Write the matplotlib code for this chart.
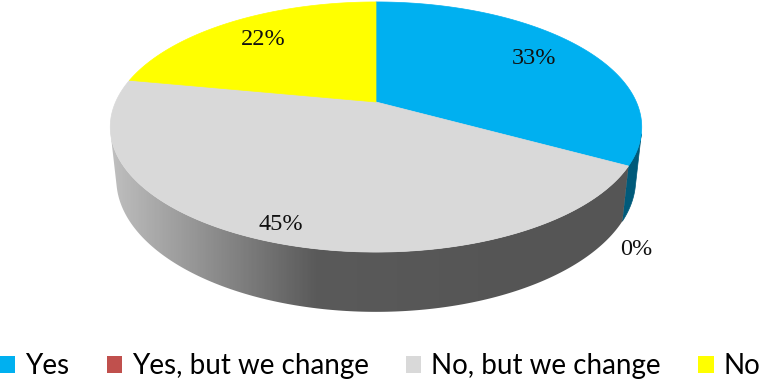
import numpy as np
import matplotlib
matplotlib.use("Agg")
import matplotlib.pyplot as plt
from matplotlib.patches import Polygon, Patch
from matplotlib.colors import LinearSegmentedColormap

labels = ["Yes", "Yes, but we change", "No, but we change", "No"]
shares = [33, 0, 45, 22]
top_colors = ["#00B0F0", "#C0504D", "#D9D9D9", "#FFFF00"]
side_colors = ["#005A7A", "#7A2E2C", None, "#9A9A00"]   # None -> grey gradient
label_r = [0.76, 1.0, 0.9, 0.76]

# perspective camera for a unit disc of thickness h
elev = np.arcsin(0.451)
s, c = np.sin(elev), np.cos(elev)
D = 5 * c
f = 1188.0
fx = f * 0.978
h = 0.221
cx, cy = 376.0, 102.0


def project(theta, r=1.0, z=0.0):
    x = r * np.cos(theta)
    y = r * np.sin(theta)
    ry = y + D * c
    rz = z - D * s
    Yc = ry * s + rz * c
    Zc = ry * c - rz * s
    return cx + fx * x / Zc, cy - f * Yc / Zc


fig = plt.figure(figsize=(7.6, 3.79), dpi=100)
ax = fig.add_axes([0, 0, 1, 1])
ax.set_xlim(0, 760)
ax.set_ylim(379, 0)
ax.axis("off")

# slice angles: start at 12 o'clock, clockwise
total = float(sum(shares))
bounds = np.deg2rad(90 - 360 * np.concatenate([[0], np.cumsum(shares)]) / total)

# front walls (only the part facing the camera)
vis_lo = np.pi + np.arcsin(1 / (D * c))
vis_hi = 2 * np.pi - np.arcsin(1 / (D * c))
grey = LinearSegmentedColormap.from_list("wall", ["#BEBEBE", "#5A5A5A", "#555555"])
for i in range(len(shares)):
    a0, a1 = bounds[i + 1], bounds[i]   # a0 < a1
    if a1 - a0 <= 0:
        continue
    for k in (-1, 0, 1):
        lo = max(a0 + 2 * np.pi * k, vis_lo)
        hi = min(a1 + 2 * np.pi * k, vis_hi)
        if hi <= lo:
            continue
        t = np.linspace(lo, hi, 200)
        tx, ty = project(t, 1.0, 0.0)
        bx, by = project(t[::-1], 1.0, -h)
        pts = np.column_stack([np.r_[tx, bx], np.r_[ty, by]])
        if side_colors[i] is None:
            poly = Polygon(pts, closed=True, facecolor="none", edgecolor="none")
            ax.add_patch(poly)
            grad = np.clip((np.linspace(0, 760, 760) - 112) / (520 - 112), 0, 1)
            im = ax.imshow(grad[None, :], cmap=grey, extent=(0, 760, 379, 0),
                           aspect="auto", vmin=0, vmax=1, zorder=1)
            im.set_clip_path(poly)
        else:
            ax.add_patch(Polygon(pts, closed=True, facecolor=side_colors[i],
                                 edgecolor=side_colors[i], lw=0.5, zorder=1))

# top faces
for i in range(len(shares)):
    a0, a1 = bounds[i + 1], bounds[i]
    if a1 - a0 <= 0:
        continue
    t = np.linspace(a1, a0, 300)
    tx, ty = project(t)
    pts = np.column_stack([np.r_[cx, tx], np.r_[cy, ty]])
    ax.add_patch(Polygon(pts, closed=True, facecolor=top_colors[i],
                         edgecolor=top_colors[i], lw=0.5, zorder=2))

# percentage labels
serif = ["Liberation Serif", "DejaVu Serif"]
for i, v in enumerate(shares):
    mid = (bounds[i] + bounds[i + 1]) / 2
    if v == 0:
        lx, ly = project(mid, label_r[i], -h)
        lx, ly = lx + 14, ly + 28
    else:
        lx, ly = project(mid, label_r[i])
    ax.text(lx, ly, f"{v}%", family=serif, fontsize=17.5, color="#111111",
            ha="center", va="center", zorder=3)

handles = [Patch(facecolor=col, edgecolor="none") for col in top_colors]
fig.legend(handles, labels, loc="lower center", bbox_to_anchor=(0.5, -0.045),
           ncol=4, frameon=False, prop={"family": ["Lato", "DejaVu Sans"], "size": 20},
           handlelength=0.55, handleheight=0.55, handletextpad=0.35,
           columnspacing=1.35, borderaxespad=0.2)

fig.savefig("out.png", dpi=100)
